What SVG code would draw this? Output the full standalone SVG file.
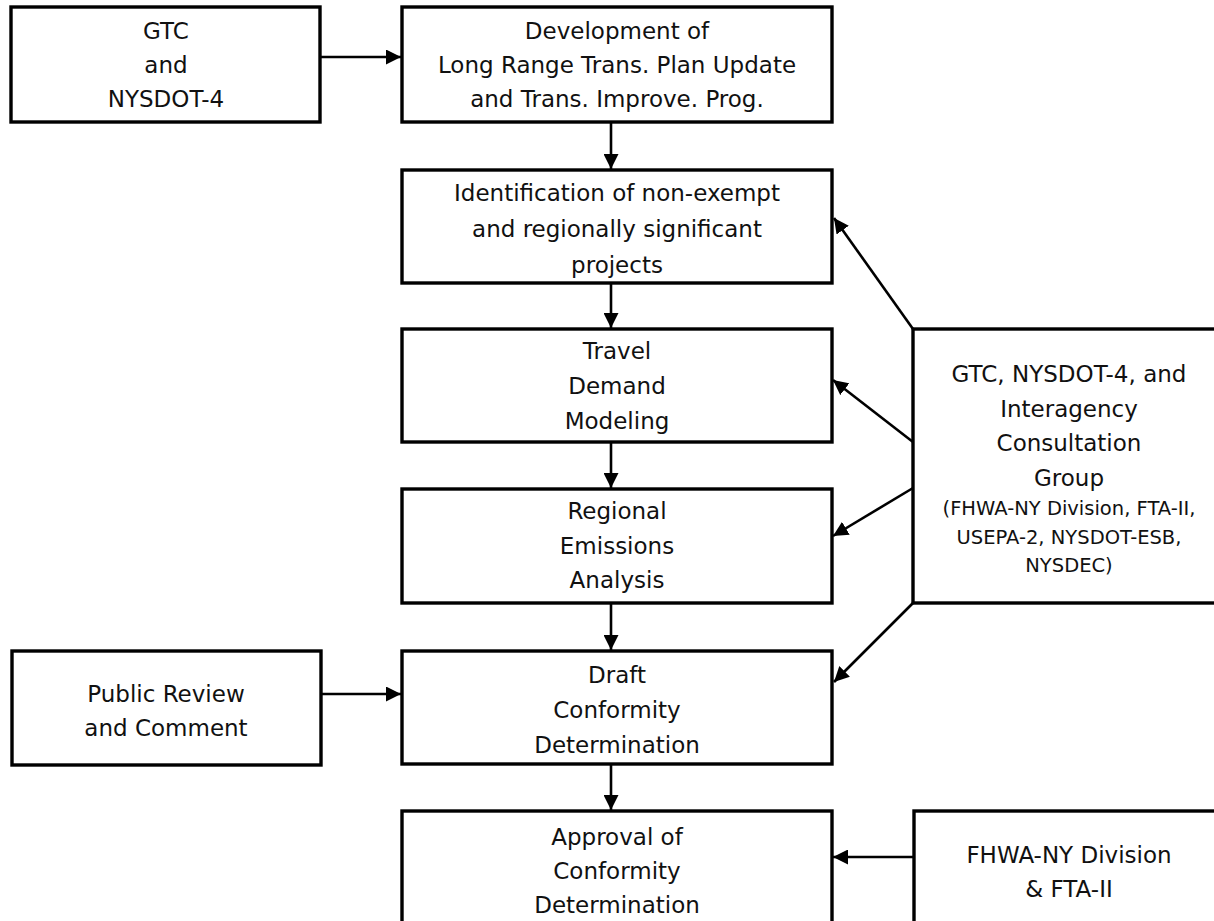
<svg xmlns="http://www.w3.org/2000/svg" width="1214" height="921" viewBox="0 0 1214 921">
<defs>
<marker id="ah" markerUnits="userSpaceOnUse" markerWidth="15" markerHeight="15" refX="15" refY="7.5" orient="auto">
<path d="M0,0 L15,7.5 L0,15 z" fill="#000"/>
</marker>
</defs>
<style>
.box{fill:#fff;stroke:#000;stroke-width:3.4}
.t{font-family:"DejaVu Sans","Noto Sans",sans-serif;font-size:23px;fill:#111;text-anchor:middle}
.s{font-size:19.5px}
.c{stroke:#000;stroke-width:2.6;fill:none;marker-end:url(#ah)}
</style>
<rect width="1214" height="921" fill="#fff"/>
<g id="connectors">
<line class="c" x1="320" y1="57" x2="401" y2="57"/>
<line class="c" x1="611" y1="122" x2="611" y2="169"/>
<line class="c" x1="611" y1="283" x2="611" y2="328"/>
<line class="c" x1="611" y1="442" x2="611" y2="488"/>
<line class="c" x1="611" y1="603" x2="611" y2="650"/>
<line class="c" x1="611" y1="764" x2="611" y2="810"/>
<line class="c" x1="321" y1="694" x2="401" y2="694"/>
<line class="c" x1="914" y1="857" x2="833" y2="857"/>
<line class="c" x1="913" y1="329" x2="834" y2="218"/>
<line class="c" x1="913" y1="442" x2="833" y2="380"/>
<line class="c" x1="913" y1="488" x2="833" y2="536"/>
<line class="c" x1="913" y1="603" x2="834" y2="682"/>
</g>
<g id="gtc-nysdot">
<rect class="box" x="11" y="7" width="309" height="115"/>
<text class="t" x="166" y="39">GTC</text>
<text class="t" x="166" y="73">and</text>
<text class="t" x="166" y="107">NYSDOT-4</text>
</g>
<g id="development">
<rect class="box" x="402" y="7" width="430" height="115"/>
<text class="t" x="617" y="39">Development of</text>
<text class="t" x="617" y="73">Long Range Trans. Plan Update</text>
<text class="t" x="617" y="107">and Trans. Improve. Prog.</text>
</g>
<g id="identification">
<rect class="box" x="402" y="170" width="430" height="113"/>
<text class="t" x="617" y="201">Identification of non-exempt</text>
<text class="t" x="617" y="237">and regionally significant</text>
<text class="t" x="617" y="273">projects</text>
</g>
<g id="travel-demand">
<rect class="box" x="402" y="329" width="430" height="113"/>
<text class="t" x="617" y="359">Travel</text>
<text class="t" x="617" y="394">Demand</text>
<text class="t" x="617" y="429">Modeling</text>
</g>
<g id="regional-emissions">
<rect class="box" x="402" y="489" width="430" height="114"/>
<text class="t" x="617" y="519">Regional</text>
<text class="t" x="617" y="554">Emissions</text>
<text class="t" x="617" y="588">Analysis</text>
</g>
<g id="draft-conformity">
<rect class="box" x="402" y="651" width="430" height="113"/>
<text class="t" x="617" y="683">Draft</text>
<text class="t" x="617" y="718">Conformity</text>
<text class="t" x="617" y="753">Determination</text>
</g>
<g id="approval-conformity">
<rect class="box" x="402" y="811" width="430" height="120"/>
<text class="t" x="617" y="845">Approval of</text>
<text class="t" x="617" y="879">Conformity</text>
<text class="t" x="617" y="913">Determination</text>
</g>
<g id="public-review">
<rect class="box" x="12" y="651" width="309" height="114"/>
<text class="t" x="166" y="702">Public Review</text>
<text class="t" x="166" y="736">and Comment</text>
</g>
<g id="interagency">
<rect class="box" x="913" y="329" width="320" height="274"/>
<text class="t" x="1069" y="382">GTC, NYSDOT-4, and</text>
<text class="t" x="1069" y="417">Interagency</text>
<text class="t" x="1069" y="451">Consultation</text>
<text class="t" x="1069" y="486">Group</text>
<text class="t s" x="1069" y="515">(FHWA-NY Division, FTA-II,</text>
<text class="t s" x="1069" y="544">USEPA-2, NYSDOT-ESB,</text>
<text class="t s" x="1069" y="572">NYSDEC)</text>
</g>
<g id="fhwa-fta">
<rect class="box" x="914" y="811" width="320" height="130"/>
<text class="t" x="1069" y="863">FHWA-NY Division</text>
<text class="t" x="1069" y="897">&amp; FTA-II</text>
</g>
</svg>
